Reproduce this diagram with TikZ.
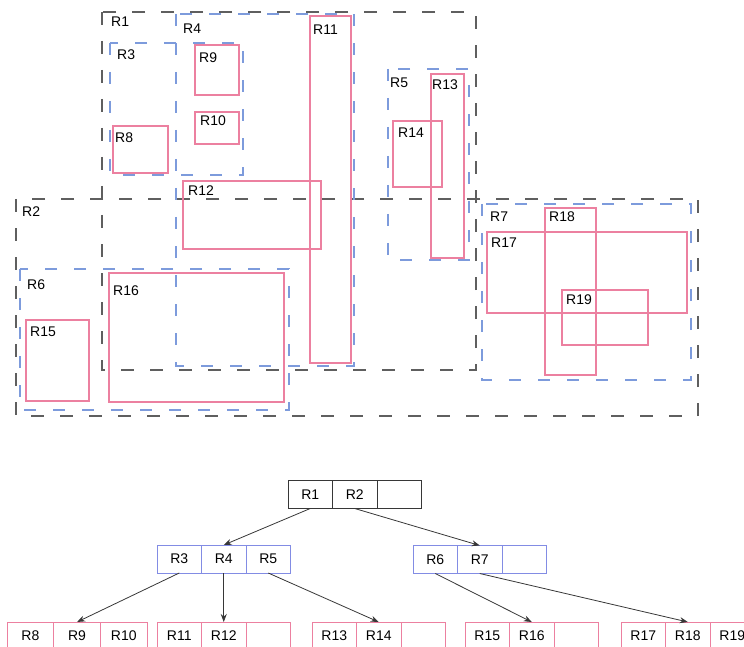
\documentclass[tikz,border=0pt]{standalone}
\usepackage{fontspec}
\setmainfont{Liberation Sans}
\usetikzlibrary{positioning,arrows.meta}

\definecolor{mbrgray}{RGB}{95,95,95}
\definecolor{mbrblue}{RGB}{125,155,220}
\definecolor{leafpink}{RGB}{236,128,160}
\definecolor{nodeblue}{RGB}{130,140,228}
\definecolor{rootgray}{RGB}{55,55,55}

\begin{document}
\begin{tikzpicture}[x=1pt, y=-1pt,
  upperbox/.style={draw=mbrgray, line width=1.4pt, dash pattern=on 13pt off 16pt},
  lowerbox/.style={draw=mbrblue, line width=1.4pt, dash pattern=on 12pt off 17pt},
  leafrect/.style={draw=leafpink, line width=1.1pt},
  lbl/.style={anchor=north west, inner sep=0pt, font=\fontsize{14}{16}\selectfont},
  cell/.style={draw, line width=1pt, minimum width=44.5pt, minimum height=28pt,
    inner sep=0pt, outer sep=0pt, font=\fontsize{14}{16}\selectfont},
  link/.style={->, >={Stealth[length=8pt,width=6pt]}, draw=rootgray, line width=0.8pt}]
  \clip (0,0) rectangle (744,647);

  % outer bounding rectangles
  \draw[upperbox] (102,12) rectangle (476,370);
  \draw[upperbox] (16,199) rectangle (698,416);
  % middle level
  \draw[lowerbox] (110,43) rectangle (243,175);
  \draw[lowerbox] (176,14) rectangle (354,366);
  \draw[lowerbox] (388,69) rectangle (469,260);
  \draw[lowerbox] (20,269) rectangle (289,410);
  \draw[lowerbox] (482,204) rectangle (691,380);
  % data rectangles
  \draw[leafrect] (113,126) rectangle (168,173);
  \draw[leafrect] (195,45) rectangle (239,95);
  \draw[leafrect] (195,112) rectangle (239,144);
  \draw[leafrect] (310,16) rectangle (351,363);
  \draw[leafrect] (183,181) rectangle (321,249);
  \draw[leafrect] (431,74) rectangle (464,258);
  \draw[leafrect] (393,121) rectangle (442,187);
  \draw[leafrect] (26,320) rectangle (89,401);
  \draw[leafrect] (109,273) rectangle (284,402);
  \draw[leafrect] (487,232) rectangle (687,313);
  \draw[leafrect] (545,208) rectangle (596,375);
  \draw[leafrect] (562,290) rectangle (648,345);

  \node[lbl] (tR1) at (111,17) {R1};
  \node[lbl] (tR2) at (22,207) {R2};
  \node[lbl] (tR3) at (117,50) {R3};
  \node[lbl] (tR4) at (183,24) {R4};
  \node[lbl] (tR5) at (390,78) {R5};
  \node[lbl] (tR6) at (27,280) {R6};
  \node[lbl] (tR7) at (490,212) {R7};
  \node[lbl] (tR8) at (115,133) {R8};
  \node[lbl] (tR9) at (199,53) {R9};
  \node[lbl] (tR10) at (200,116) {R10};
  \node[lbl] (tR11) at (313,25) {R11};
  \node[lbl] (tR12) at (188,186) {R12};
  \node[lbl] (tR13) at (432,80) {R13};
  \node[lbl] (tR14) at (398,128) {R14};
  \node[lbl] (tR15) at (30,327) {R15};
  \node[lbl] (tR16) at (113,286) {R16};
  \node[lbl] (tR17) at (491,238) {R17};
  \node[lbl] (tR18) at (549,212) {R18};
  \node[lbl] (tR19) at (566,295) {R19};

  % tree: root
  \node[cell, draw=rootgray] (cR1) at (310.25,494.5) {R1};
  \node[cell, draw=rootgray, right=0pt of cR1] (cR2) {R2};
  \node[cell, draw=rootgray, right=0pt of cR2] (cE1) {};
  % tree: second level
  \node[cell, draw=nodeblue] (cR3) at (179.25,559) {R3};
  \node[cell, draw=nodeblue, right=0pt of cR3] (cR4) {R4};
  \node[cell, draw=nodeblue, right=0pt of cR4] (cR5) {R5};
  \node[cell, draw=nodeblue] (cR6) at (435.25,559.5) {R6};
  \node[cell, draw=nodeblue, right=0pt of cR6] (cR7) {R7};
  \node[cell, draw=nodeblue, right=0pt of cR7] (cE2) {};
  % tree: leaves
  \node[cell, draw=leafpink, minimum width=46.7pt] (cR8) at (30.35,636) {R8};
  \node[cell, draw=leafpink, minimum width=46.7pt, right=0pt of cR8] (cR9) {R9};
  \node[cell, draw=leafpink, minimum width=46.7pt, right=0pt of cR9] (cR10) {R10};
  \node[cell, draw=leafpink] (cR11) at (179.25,636) {R11};
  \node[cell, draw=leafpink, right=0pt of cR11] (cR12) {R12};
  \node[cell, draw=leafpink, right=0pt of cR12] (cE3) {};
  \node[cell, draw=leafpink] (cR13) at (334.25,636) {R13};
  \node[cell, draw=leafpink, right=0pt of cR13] (cR14) {R14};
  \node[cell, draw=leafpink, right=0pt of cR14] (cE4) {};
  \node[cell, draw=leafpink] (cR15) at (487.25,636) {R15};
  \node[cell, draw=leafpink, right=0pt of cR15] (cR16) {R16};
  \node[cell, draw=leafpink, right=0pt of cR16] (cE5) {};
  \node[cell, draw=leafpink] (cR17) at (643.25,636) {R17};
  \node[cell, draw=leafpink, right=0pt of cR17] (cR18) {R18};
  \node[cell, draw=leafpink, right=0pt of cR18] (cR19) {R19};

  \draw[link] (cR1.south) -- (cR4.north);
  \draw[link] (cR2.south) -- (cR7.north);
  \draw[link] (cR3.south) -- (cR9.north);
  \draw[link] (cR4.south) -- (cR12.north);
  \draw[link] (cR5.south) -- (cR14.north);
  \draw[link] (cR6.south) -- (cR16.north);
  \draw[link] (cR7.south) -- (cR18.north);
\end{tikzpicture}
\end{document}
